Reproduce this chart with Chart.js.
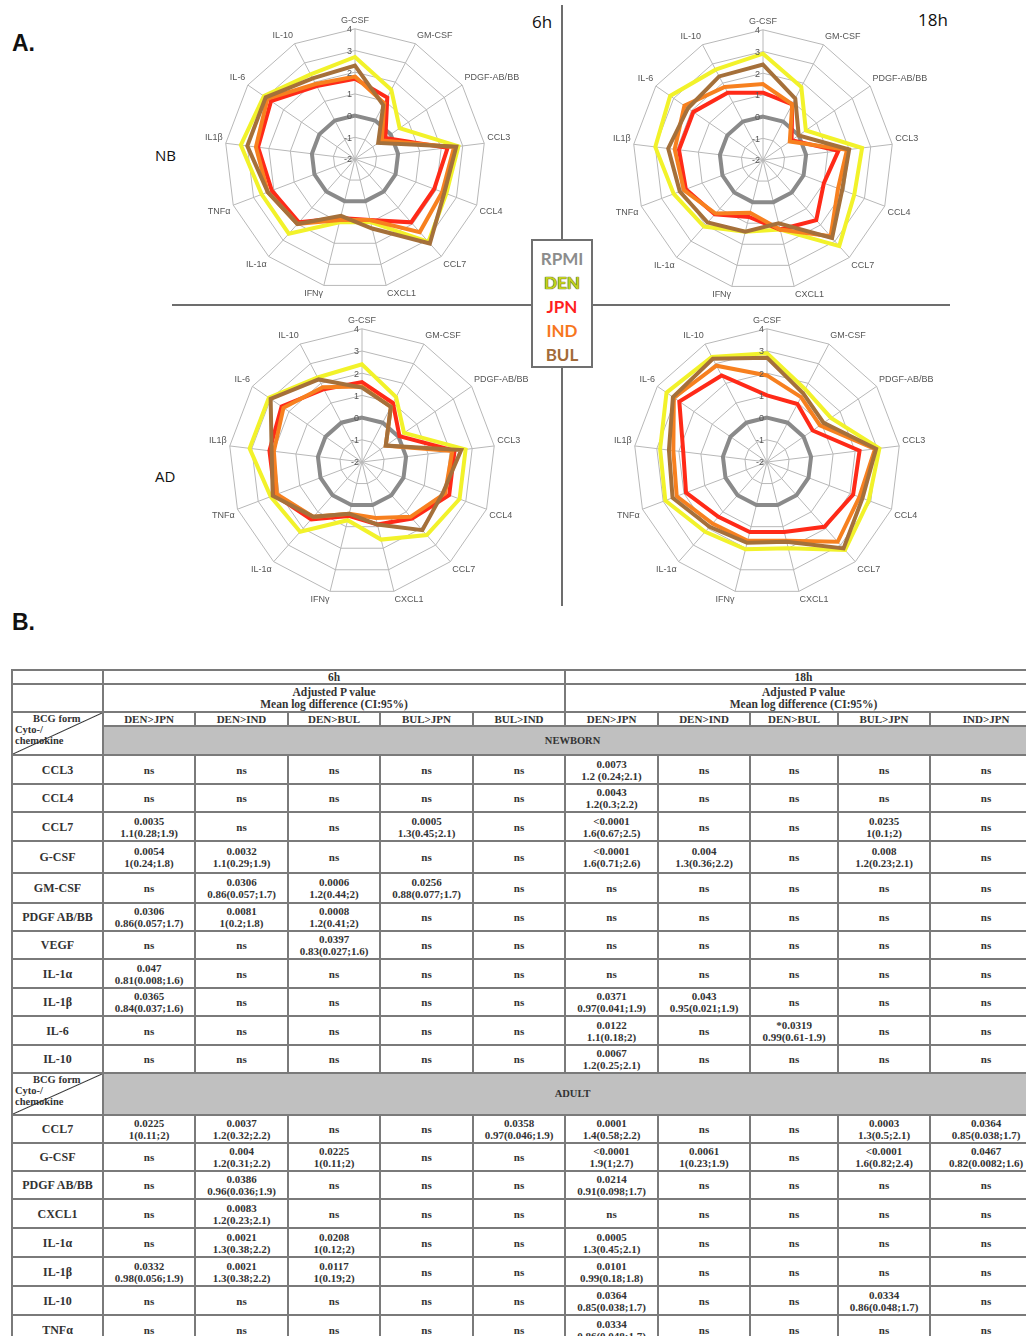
<!DOCTYPE html>
<html>
<head>
<meta charset="utf-8">
<script src="https://cdn.jsdelivr.net/npm/chart.js@4.4.1/dist/chart.umd.min.js"></script>
<style>
body{margin:0;width:1026px;height:1336px;overflow:hidden;background:#fff;position:relative;font-family:"Liberation Sans",Arial,sans-serif;color:#111}
.abs{position:absolute}
.lbl{position:absolute;font-family:"Open Sans","Liberation Sans",sans-serif;color:#111}
.vline{position:absolute;width:2px;background:#6d6d6d}
.hline{position:absolute;height:2px;background:#6d6d6d}
#legend{position:absolute;left:531px;top:239px;width:62px;height:129px;border:2px solid #707070;background:#fff;
  font-family:Lato,"Open Sans",sans-serif;font-weight:bold;font-size:17px;text-align:center;line-height:24px;padding-top:6px;box-sizing:border-box}
table{position:absolute;left:11px;top:669px;border-collapse:collapse;table-layout:fixed;width:1030px;
  font-family:"Liberation Serif","DejaVu Serif",serif;font-weight:bold;font-size:11px;line-height:12px;color:#333}
td{border:2px solid #7a7a7a;text-align:center;vertical-align:middle;padding:0;overflow:hidden;white-space:nowrap}
td.name{font-size:12px}
td.head{font-size:11.5px}
td.band{background:#c0c0c0;font-size:10.5px}
td.diag{text-align:left;vertical-align:top;font-size:10.5px;line-height:11px;
  background:linear-gradient(to bottom right,transparent calc(50% - 1px),#333 50%,transparent calc(50% + 1px))}
</style>
</head>
<body>

<div class="lbl" style="left:12px;top:30px;font-size:23px;font-weight:bold;font-family:'Liberation Sans',Arial">A.</div>
<div class="lbl" style="left:12px;top:609px;font-size:23px;font-weight:bold;font-family:'Liberation Sans',Arial">B.</div>
<div class="lbl" style="left:532px;top:10px;font-size:17px">6h</div>
<div class="lbl" style="left:918px;top:8px;font-size:17px">18h</div>
<div class="lbl" style="left:155px;top:145px;font-size:15px">NB</div>
<div class="lbl" style="left:155px;top:466px;font-size:15px">AD</div>

<div class="vline" style="left:561px;top:5px;height:235px"></div>
<div class="vline" style="left:561px;top:367px;height:239px"></div>
<div class="hline" style="left:172px;top:304px;width:360px"></div>
<div class="hline" style="left:593px;top:304px;width:357px"></div>

<canvas id="nb6" class="abs" width="360" height="288" style="left:175px;top:14px"></canvas>
<canvas id="nb18" class="abs" width="360" height="288" style="left:583px;top:15px"></canvas>
<canvas id="ad6" class="abs" width="360" height="294" style="left:182px;top:313px"></canvas>
<canvas id="ad18" class="abs" width="360" height="294" style="left:587px;top:313px"></canvas>

<div id="legend">
  <div style="color:#8c8c8c">RPMI</div>
  <div style="color:#c2d11e;text-shadow:0 0 1px #3f4700,0 0 1px #3f4700">DEN</div>
  <div style="color:#ff1f1f">JPN</div>
  <div style="color:#f7771e">IND</div>
  <div style="color:#a36b38">BUL</div>
</div>

<table id="tbl"></table>

<script>
// ---- radar data (log values) ----
var axes = ['G-CSF', 'GM-CSF', 'PDGF-AB/BB', 'CCL3', 'CCL4', 'CCL7', 'CXCL1', 'IFNγ', 'IL-1α', 'TNFα', 'IL1β', 'IL-6', 'IL-10'];
var tickLabels = ['-2', '-1', '0', '1', '2', '3', '4'];

var rpmi = [0, 0, 0, 0, 0, 0, 0, 0, 0, 0, 0, 0, 0];

var nb6Den = [2.7, 1.6, 0.5, 2.8, 2.5, 3.1, 1.0, 1.0, 2.6, 2.6, 3.3, 3.1, 2.4];
var nb6Jpn = [1.7, 1.2, -0.3, 2.3, 1.9, 1.9, 0.9, 0.8, 1.9, 2.1, 2.5, 2.7, 1.8];
var nb6Ind = [1.8, 0.9, -0.5, 2.6, 2.3, 2.5, 0.9, 0.9, 2.0, 2.3, 2.6, 2.9, 1.9];
var nb6Bul = [2.3, 0.8, -0.7, 2.7, 2.4, 3.2, 1.3, 0.7, 2.0, 2.3, 3.0, 3.0, 2.2];

var nb18Den = [2.9, 1.8, 0.4, 2.6, 2.5, 3.3, 1.3, 1.4, 2.1, 2.4, 3.0, 3.2, 2.7];
var nb18Jpn = [1.1, 0.9, -0.4, 1.5, 1.0, 1.7, 1.3, 0.7, 1.35, 1.8, 1.9, 1.9, 1.5];
var nb18Ind = [1.5, 0.9, -0.5, 1.9, 1.7, 2.7, 1.3, 0.5, 1.3, 1.9, 2.1, 2.4, 1.8];
var nb18Bul = [2.4, 1.2, 0.0, 2.0, 1.9, 2.8, 1.0, 1.4, 1.85, 2.1, 2.4, 2.2, 2.35];

var ad6Den = [2.4, 1.3, 0.3, 2.7, 2.7, 2.4, 1.6, 0.7, 2.2, 2.4, 3.1, 3.1, 2.3];
var ad6Jpn = [1.6, 1.0, 0.05, 2.2, 2.2, 1.4, 0.9, 0.5, 1.45, 2.2, 2.2, 2.4, 1.7];
var ad6Ind = [1.4, 0.8, -0.7, 2.1, 2.0, 1.3, 0.6, 0.4, 1.3, 2.1, 2.0, 2.3, 1.8];
var ad6Bul = [1.35, 0.8, -0.7, 2.5, 1.9, 2.1, 0.9, 0.4, 1.3, 2.3, 2.1, 3.0, 2.2];

var ad18Den = [2.9, 1.7, 1.5, 3.1, 2.9, 3.3, 2.0, 2.05, 2.2, 2.9, 2.85, 3.5, 3.35];
var ad18Jpn = [1.0, 0.95, 0.5, 2.2, 2.15, 1.9, 1.25, 1.25, 1.3, 1.9, 1.8, 2.8, 2.4];
var ad18Ind = [1.9, 1.3, 0.9, 2.9, 2.45, 2.8, 1.65, 1.65, 1.7, 2.35, 2.25, 3.1, 2.9];
var ad18Bul = [2.7, 1.5, 1.1, 2.95, 2.6, 3.2, 1.7, 1.75, 1.9, 2.55, 2.45, 3.15, 3.25];

// tick labels sit just left of the vertical axis, as in the original
var tickSinistra = {
    id: 'tickSinistra',
    afterDatasetsDraw: function (chart) {
        var s = chart.scales.r;
        var ctx = chart.ctx;
        ctx.save();
        ctx.fillStyle = '#555';
        ctx.font = '9px "Liberation Sans", Arial';
        ctx.textAlign = 'right';
        ctx.textBaseline = 'middle';
        for (var i = 0; i < tickLabels.length; i++) {
            var d = s.getDistanceFromCenterForValue(Number(tickLabels[i]));
            ctx.fillText(tickLabels[i], s.xCenter - 3, s.yCenter - d + 1);
        }
        ctx.restore();
    }
};

function creaRadar(id, den, jpn, ind, bul) {
    var ctx = document.getElementById(id);
    function serie(label, data, colore, ordine) {
        return {label: label, data: data, borderColor: colore, backgroundColor: 'transparent',
                fill: false, borderWidth: 4, pointRadius: 0, order: ordine};
    }
    new Chart(ctx, {
        type: 'radar',
        data: {
            labels: axes,
            datasets: [
                serie('BUL', bul, '#a5703a', 1),
                serie('IND', ind, '#f7801f', 2),
                serie('JPN', jpn, '#ff2a18', 3),
                serie('DEN', den, '#f2f22a', 4),
                serie('RPMI', rpmi, '#8a8a8a', 5)
            ]
        },
        options: {
            responsive: false,
            animation: false,
            layout: {padding: 0},
            plugins: {legend: {display: false}, tooltip: {enabled: false}},
            elements: {line: {tension: 0, borderJoinStyle: 'miter'}},
            scales: {
                r: {
                    min: -2,
                    max: 4,
                    ticks: {stepSize: 1, display: false},
                    grid: {color: '#b8b8b8', lineWidth: 1},
                    angleLines: {color: '#b8b8b8'},
                    pointLabels: {color: '#555', font: {size: 9}, padding: 3}
                }
            }
        },
        plugins: [tickSinistra]
    });
}

creaRadar('nb6', nb6Den, nb6Jpn, nb6Ind, nb6Bul);
creaRadar('nb18', nb18Den, nb18Jpn, nb18Ind, nb18Bul);
creaRadar('ad6', ad6Den, ad6Jpn, ad6Ind, ad6Bul);
creaRadar('ad18', ad18Den, ad18Jpn, ad18Ind, ad18Bul);

// ---- table B ----
var comparisons6 = ['DEN>JPN', 'DEN>IND', 'DEN>BUL', 'BUL>JPN', 'BUL>IND'];
var comparisons18 = ['DEN>JPN', 'DEN>IND', 'DEN>BUL', 'BUL>JPN', 'IND>JPN'];
var colWidths = [91, 92, 93, 92, 93, 92, 93, 92, 88, 92, 112];

var newbornNames = ['CCL3', 'CCL4', 'CCL7', 'G-CSF', 'GM-CSF', 'PDGF AB/BB', 'VEGF', 'IL-1α', 'IL-1β', 'IL-6', 'IL-10'];
var newbornHeights = [29, 28, 29, 32, 30, 28, 28, 29, 28, 29, 28];
var newbornCells = [
    ['ns', 'ns', 'ns', 'ns', 'ns', '0.0073|1.2 (0.24;2.1)', 'ns', 'ns', 'ns', 'ns'],
    ['ns', 'ns', 'ns', 'ns', 'ns', '0.0043|1.2(0.3;2.2)', 'ns', 'ns', 'ns', 'ns'],
    ['0.0035|1.1(0.28;1.9)', 'ns', 'ns', '0.0005|1.3(0.45;2.1)', 'ns', '<0.0001|1.6(0.67;2.5)', 'ns', 'ns', '0.0235|1(0.1;2)', 'ns'],
    ['0.0054|1(0.24;1.8)', '0.0032|1.1(0.29;1.9)', 'ns', 'ns', 'ns', '<0.0001|1.6(0.71;2.6)', '0.004|1.3(0.36;2.2)', 'ns', '0.008|1.2(0.23;2.1)', 'ns'],
    ['ns', '0.0306|0.86(0.057;1.7)', '0.0006|1.2(0.44;2)', '0.0256|0.88(0.077;1.7)', 'ns', 'ns', 'ns', 'ns', 'ns', 'ns'],
    ['0.0306|0.86(0.057;1.7)', '0.0081|1(0.2;1.8)', '0.0008|1.2(0.41;2)', 'ns', 'ns', 'ns', 'ns', 'ns', 'ns', 'ns'],
    ['ns', 'ns', '0.0397|0.83(0.027;1.6)', 'ns', 'ns', 'ns', 'ns', 'ns', 'ns', 'ns'],
    ['0.047|0.81(0.008;1.6)', 'ns', 'ns', 'ns', 'ns', 'ns', 'ns', 'ns', 'ns', 'ns'],
    ['0.0365|0.84(0.037;1.6)', 'ns', 'ns', 'ns', 'ns', '0.0371|0.97(0.041;1.9)', '0.043|0.95(0.021;1.9)', 'ns', 'ns', 'ns'],
    ['ns', 'ns', 'ns', 'ns', 'ns', '0.0122|1.1(0.18;2)', 'ns', '*0.0319|0.99(0.61-1.9)', 'ns', 'ns'],
    ['ns', 'ns', 'ns', 'ns', 'ns', '0.0067|1.2(0.25;2.1)', 'ns', 'ns', 'ns', 'ns']
];

var adultNames = ['CCL7', 'G-CSF', 'PDGF AB/BB', 'CXCL1', 'IL-1α', 'IL-1β', 'IL-10', 'TNFα'];
var adultHeights = [28, 28, 28, 29, 29, 29, 29, 29];
var adultCells = [
    ['0.0225|1(0.11;2)', '0.0037|1.2(0.32;2.2)', 'ns', 'ns', '0.0358|0.97(0.046;1.9)', '0.0001|1.4(0.58;2.2)', 'ns', 'ns', '0.0003|1.3(0.5;2.1)', '0.0364|0.85(0.038;1.7)'],
    ['ns', '0.004|1.2(0.31;2.2)', '0.0225|1(0.11;2)', 'ns', 'ns', '<0.0001|1.9(1;2.7)', '0.0061|1(0.23;1.9)', 'ns', '<0.0001|1.6(0.82;2.4)', '0.0467|0.82(0.0082;1.6)'],
    ['ns', '0.0386|0.96(0.036;1.9)', 'ns', 'ns', 'ns', '0.0214|0.91(0.098;1.7)', 'ns', 'ns', 'ns', 'ns'],
    ['ns', '0.0083|1.2(0.23;2.1)', 'ns', 'ns', 'ns', 'ns', 'ns', 'ns', 'ns', 'ns'],
    ['ns', '0.0021|1.3(0.38;2.2)', '0.0208|1(0.12;2)', 'ns', 'ns', '0.0005|1.3(0.45;2.1)', 'ns', 'ns', 'ns', 'ns'],
    ['0.0332|0.98(0.056;1.9)', '0.0021|1.3(0.38;2.2)', '0.0117|1(0.19;2)', 'ns', 'ns', '0.0101|0.99(0.18;1.8)', 'ns', 'ns', 'ns', 'ns'],
    ['ns', 'ns', 'ns', 'ns', 'ns', '0.0364|0.85(0.038;1.7)', 'ns', 'ns', '0.0334|0.86(0.048;1.7)', 'ns'],
    ['ns', 'ns', 'ns', 'ns', 'ns', '0.0334|0.86(0.048;1.7)', 'ns', 'ns', 'ns', 'ns']
];

function cella(testo) {
    return testo.split('&').join('&amp;').split('<').join('&lt;').split('>').join('&gt;').split('|').join('<br>');
}

var diagHtml = '<td class="diag" rowspan="ROWS"><div style="padding-left:20px">BCG form</div><div style="padding-left:2px">Cyto-/</div><div style="padding-left:2px">chemokine</div></td>';

var html = '<colgroup>';
for (var i = 0; i < colWidths.length; i++) {
    html += '<col style="width:' + colWidths[i] + 'px">';
}
html += '</colgroup>';
html += '<tr style="height:14px"><td></td><td class="head" colspan="5">6h</td><td class="head" colspan="5">18h</td></tr>';
html += '<tr style="height:28px"><td></td><td class="head" colspan="5">Adjusted P value<br>Mean log difference (CI:95%)</td>' +
        '<td class="head" colspan="5">Adjusted P value<br>Mean log difference (CI:95%)</td></tr>';
html += '<tr style="height:12px">' + diagHtml.replace('ROWS', '2');
for (var i = 0; i < comparisons6.length; i++) html += '<td>' + cella(comparisons6[i]) + '</td>';
for (var i = 0; i < comparisons18.length; i++) html += '<td>' + cella(comparisons18[i]) + '</td>';
html += '</tr>';
html += '<tr style="height:29px"><td class="band" colspan="10">NEWBORN</td></tr>';
for (var r = 0; r < newbornNames.length; r++) {
    html += '<tr style="height:' + newbornHeights[r] + 'px"><td class="name">' + newbornNames[r] + '</td>';
    for (var c = 0; c < newbornCells[r].length; c++) html += '<td>' + cella(newbornCells[r][c]) + '</td>';
    html += '</tr>';
}
html += '<tr style="height:42px">' + diagHtml.replace('ROWS', '1') + '<td class="band" colspan="10">ADULT</td></tr>';
for (var r = 0; r < adultNames.length; r++) {
    html += '<tr style="height:' + adultHeights[r] + 'px"><td class="name">' + adultNames[r] + '</td>';
    for (var c = 0; c < adultCells[r].length; c++) html += '<td>' + cella(adultCells[r][c]) + '</td>';
    html += '</tr>';
}
document.getElementById('tbl').innerHTML = html;
</script>
</body>
</html>
